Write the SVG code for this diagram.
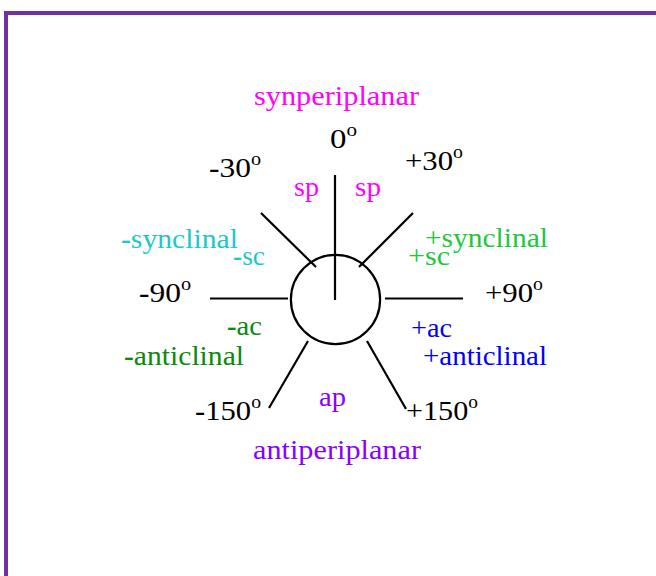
<svg xmlns="http://www.w3.org/2000/svg" width="656" height="576" viewBox="0 0 656 576">
<style>
text{font-family:"Liberation Serif","Times New Roman",Times,serif;font-size:28px}
.k{fill:#000}
.mag{fill:#FF00FF}
.cy{fill:#1CC8C8}
.lg{fill:#1CC83C}
.dg{fill:#0A8A0A}
.bl{fill:#0000FF}
.pu{fill:#8A00FF}
.sup{font-size:18px}
.b{font-weight:bold}
.ln{stroke:#000;stroke-width:2.2;fill:none}
</style>
<rect width="656" height="576" fill="#fff"/>
<g id="border" fill="#7030A0">
<rect x="4" y="11" width="652" height="4"/>
<rect x="4" y="11" width="4" height="565"/>
</g>
<g id="newman">
<circle cx="335.5" cy="299.5" r="44.6" class="ln"/>
</g>
<g id="connectors" class="ln">
<line x1="335" y1="175" x2="335" y2="300"/>
<line x1="261" y1="213" x2="316" y2="267"/>
<line x1="413" y1="213" x2="359" y2="267"/>
<line x1="210" y1="298.5" x2="288" y2="298.5"/>
<line x1="385" y1="298.5" x2="463" y2="298.5"/>
<line x1="308" y1="341" x2="269" y2="408"/>
<line x1="367" y1="341" x2="406" y2="409"/>
</g>
<g id="angles" class="k">
<text x="330" y="148" textLength="27" lengthAdjust="spacingAndGlyphs">0<tspan class="sup" dy="-12">o</tspan></text>
<text x="209" y="177" textLength="52" lengthAdjust="spacingAndGlyphs"><tspan class="b">-</tspan>30<tspan class="sup" dy="-12">o</tspan></text>
<text x="405" y="170" textLength="58" lengthAdjust="spacingAndGlyphs">+30<tspan class="sup" dy="-12">o</tspan></text>
<text x="139" y="302" textLength="52" lengthAdjust="spacingAndGlyphs"><tspan class="b">-</tspan>90<tspan class="sup" dy="-12">o</tspan></text>
<text x="485" y="302" textLength="58" lengthAdjust="spacingAndGlyphs">+90<tspan class="sup" dy="-12">o</tspan></text>
<text x="195" y="420" textLength="66" lengthAdjust="spacingAndGlyphs"><tspan class="b">-</tspan>150<tspan class="sup" dy="-12">o</tspan></text>
<text x="406" y="420" textLength="72" lengthAdjust="spacingAndGlyphs">+150<tspan class="sup" dy="-12">o</tspan></text>
</g>
<g id="sp-labels" class="mag">
<text x="254" y="105" textLength="165" lengthAdjust="spacingAndGlyphs">synperiplanar</text>
<text x="294" y="196" textLength="25" lengthAdjust="spacingAndGlyphs">sp</text>
<text x="355" y="196" textLength="26" lengthAdjust="spacingAndGlyphs">sp</text>
</g>
<g id="minus-sc" class="cy">
<text x="121" y="248" textLength="117" lengthAdjust="spacingAndGlyphs"><tspan class="b">-</tspan>synclinal</text>
<text x="233" y="265" textLength="32" lengthAdjust="spacingAndGlyphs"><tspan class="b">-</tspan>sc</text>
</g>
<g id="plus-sc" class="lg">
<text x="425" y="247" textLength="123" lengthAdjust="spacingAndGlyphs">+synclinal</text>
<text x="408" y="265" textLength="42" lengthAdjust="spacingAndGlyphs">+sc</text>
</g>
<g id="minus-ac" class="dg">
<text x="227" y="335" textLength="35" lengthAdjust="spacingAndGlyphs"><tspan class="b">-</tspan>ac</text>
<text x="124" y="365" textLength="120" lengthAdjust="spacingAndGlyphs"><tspan class="b">-</tspan>anticlinal</text>
</g>
<g id="plus-ac" class="bl">
<text x="411" y="337" textLength="41" lengthAdjust="spacingAndGlyphs">+ac</text>
<text x="423" y="365" textLength="124" lengthAdjust="spacingAndGlyphs">+anticlinal</text>
</g>
<g id="ap-labels" class="pu">
<text x="319" y="406" textLength="27" lengthAdjust="spacingAndGlyphs">ap</text>
<text x="253" y="459" textLength="168" lengthAdjust="spacingAndGlyphs">antiperiplanar</text>
</g>
</svg>
